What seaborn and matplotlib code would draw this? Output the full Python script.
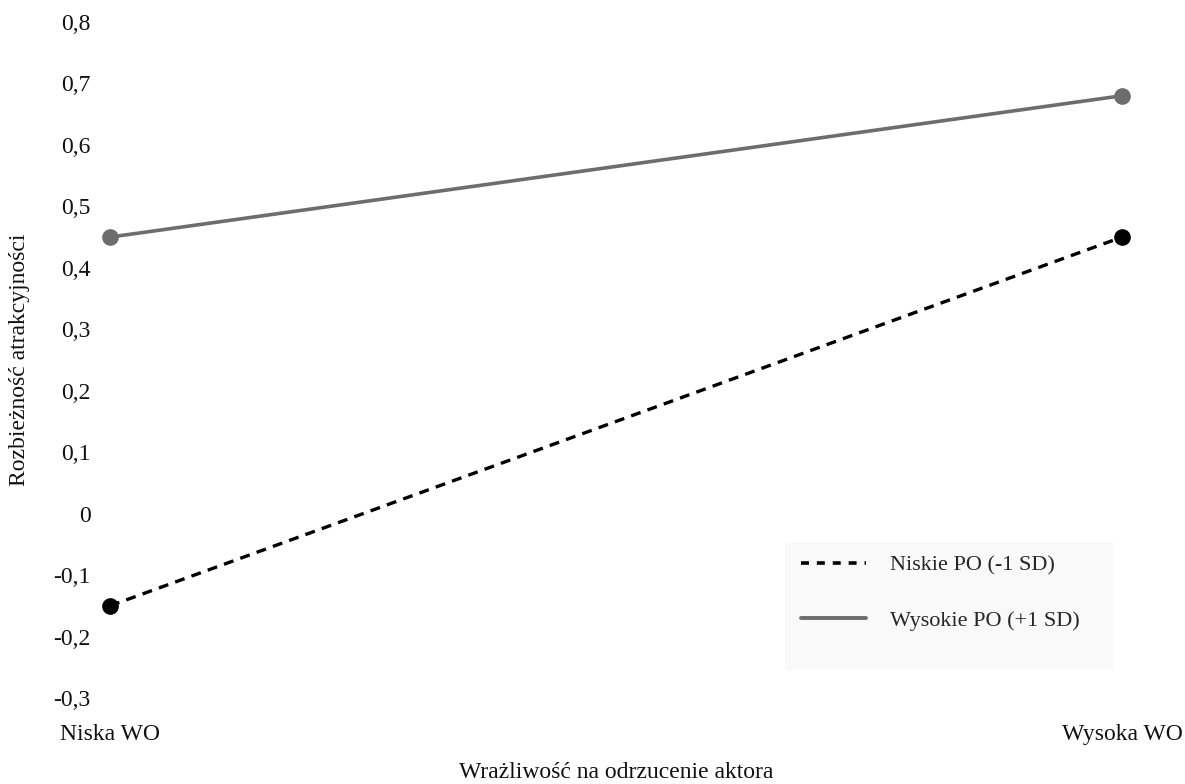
import matplotlib
matplotlib.use("Agg")
import matplotlib.pyplot as plt
from matplotlib.lines import Line2D
from matplotlib.patches import Rectangle
import numpy as np
import pandas as pd
import seaborn as sns

# data
groups = ["Niska WO", "Wysoka WO"]
low_po = [-0.15, 0.45]
high_po = [0.45, 0.68]
series_names = ["Niskie PO (-1 SD)", "Wysokie PO (+1 SD)"]
y_ticks = [-0.3, -0.2, -0.1, 0.0, 0.1, 0.2, 0.3, 0.4, 0.5, 0.6, 0.7, 0.8]

sns.set_theme(style="white")
plt.rcParams["font.family"] = ["Liberation Serif", "DejaVu Serif"]

df = pd.DataFrame({
    "x": [0, 1, 0, 1],
    "y": low_po + high_po,
    "grupa": [series_names[0]] * 2 + [series_names[1]] * 2,
})

W, H = 1185, 784
fig = plt.figure(figsize=(W / 100, H / 100), dpi=100)
ax = fig.add_axes([110 / W, 1 - 698 / H, (1122 - 110) / W, (698 - 22) / H])

black = "#000000"
gray = "#6d6d6d"

sns.lineplot(data=df[df.grupa == series_names[0]], x="x", y="y", ax=ax,
             color=black, linewidth=2.4, linestyle=(0, (3, 2.2)),
             marker="o", markersize=12, markeredgewidth=0, legend=False)
sns.lineplot(data=df[df.grupa == series_names[1]], x="x", y="y", ax=ax,
             color=gray, linewidth=2.6, marker="o", markersize=12,
             markeredgewidth=0, legend=False)
for ln in ax.lines:
    ln.set_clip_on(False)

ax.set_xlim(0, 1)
ax.set_ylim(-0.3, 0.8)
ax.set_yticks(y_ticks)
ax.set_yticklabels([("%g" % v).replace(".", ",") if v != 0 else "0" for v in y_ticks])
ax.set_xticks([0, 1])
ax.set_xticklabels(groups)
ax.tick_params(axis="both", length=0, labelsize=17, colors="#111111")
ax.tick_params(axis="y", pad=14)
ax.tick_params(axis="x", pad=19)
sns.despine(ax=ax, left=True, bottom=True)
ax.set_xlabel("")
ax.set_ylabel("")

fig.text(20 / W, 1 - 360 / H, "Rozbieżność atrakcyjności", rotation=90,
         ha="center", va="center", fontsize=17, color="#111111")
fig.text(616 / W, 1 - 772 / H, "Wrażliwość na odrzucenie aktora",
         ha="center", va="center", fontsize=17, color="#111111")

# legend background box
fig.patches.append(Rectangle((785 / W, 1 - 670 / H), (1113 - 785) / W, (670 - 542) / H,
                             transform=fig.transFigure, facecolor="#f9f9f9",
                             edgecolor="none", zorder=0))

handles = [
    Line2D([], [], color=black, linewidth=2.6, linestyle=(0, (2.2, 2.2))),
    Line2D([], [], color=gray, linewidth=2.8),
]
leg = fig.legend(handles, series_names, loc="upper left",
                 bbox_to_anchor=(790 / W, 1 - 544 / H),
                 frameon=False, fontsize=16, handlelength=2.9,
                 labelspacing=1.55, borderpad=0.5, handletextpad=1.1,
                 borderaxespad=0)

fig.savefig("out.png", dpi=100)
